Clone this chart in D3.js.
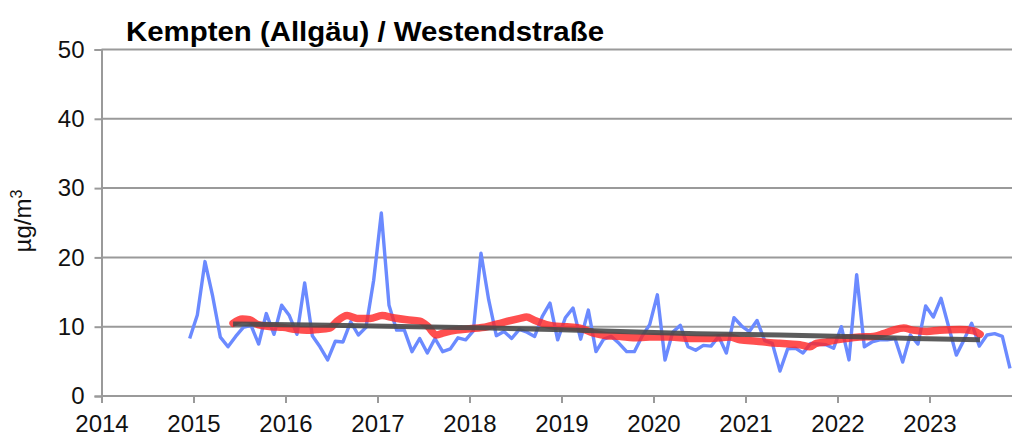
<!DOCTYPE html>
<html>
<head>
<meta charset="utf-8">
<script src="https://cdn.jsdelivr.net/npm/d3@7"></script>
<style>
body { margin: 0; background: #fff; }
svg { display: block; font-family: "Liberation Sans", Arial, sans-serif; }
</style>
</head>
<body>
<div id="chart"></div>
<script>
var W = 1012, H = 439;

var title = "Kempten (Allgäu) / Westendstraße";
var xTicks = [2014, 2015, 2016, 2017, 2018, 2019, 2020, 2021, 2022, 2023];
var yTicks = [0, 10, 20, 30, 40, 50];

// monthly means, starting December 2014
var monthlyStart = [2014, 12];
var monthly = [
    8.3, 11.7, 19.4, 14.4, 8.5, 7.1, 8.6, 9.9, 10.2, 7.5, 11.9, 8.9,
    13.1, 11.6, 8.9, 16.3, 8.7, 7.1, 5.2, 7.9, 7.8, 10.7, 8.8, 9.9,
    16.7, 26.4, 13.1, 9.5, 9.5, 6.4, 8.3, 6.2, 8.3, 6.4, 6.8, 8.4,
    8.1, 9.4, 20.6, 13.9, 8.7, 9.3, 8.3, 9.6, 9.2, 8.6, 11.5, 13.4,
    8.1, 11.3, 12.7, 8.2, 12.4, 6.4, 8.2, 8.6, 7.6, 6.4, 6.4, 8.6,
    10.3, 14.6, 5.2, 9.2, 10.2, 7.1, 6.6, 7.3, 7.2, 8.6, 6.2, 11.3,
    10.1, 9.3, 10.9, 8.0, 7.6, 3.6, 6.8, 6.9, 6.2, 7.6, 7.5, 7.4,
    6.9, 10.0, 5.2, 17.5, 7.1, 7.8, 8.1, 8.1, 8.3, 4.9, 8.8, 7.5,
    13.0, 11.4, 14.1, 10.0, 5.9, 8.1, 10.5, 7.2, 8.8, 9.0, 8.6, 4.0
];

// running mean (red)
var meanYears = [2015.43, 2015.53, 2015.61, 2015.70, 2015.85, 2015.97, 2016.12, 2016.23,
    2016.34, 2016.48, 2016.56, 2016.67, 2016.78, 2016.92, 2017.05, 2017.17, 2017.32,
    2017.46, 2017.55, 2017.64, 2017.72, 2017.86, 2018.00, 2018.19, 2018.36, 2018.55,
    2018.62, 2018.71, 2018.91, 2019.06, 2019.20, 2019.34, 2019.49, 2019.64, 2019.78,
    2019.96, 2020.18, 2020.40, 2020.61, 2020.83, 2020.94, 2021.12, 2021.27, 2021.37,
    2021.48, 2021.59, 2021.70, 2021.77, 2021.88, 2021.99, 2022.10, 2022.24, 2022.39,
    2022.50, 2022.61, 2022.72, 2022.82, 2022.97, 2023.11, 2023.33, 2023.48, 2023.55];
var meanValues = [10.5, 11.1, 11.0, 10.3, 10.0, 9.9, 9.6, 9.5,
    9.6, 9.8, 10.8, 11.6, 11.2, 11.2, 11.6, 11.3, 11.0,
    10.8, 10.0, 8.8, 9.1, 9.5, 9.7, 10.0, 10.6, 11.2,
    11.4, 10.9, 10.1, 10.0, 9.8, 9.1, 8.7, 8.6, 8.4,
    8.5, 8.5, 8.3, 8.3, 8.5, 8.1, 7.9, 7.7, 7.6,
    7.5, 7.4, 7.1, 7.6, 7.8, 8.1, 8.3, 8.5, 8.6,
    9.0, 9.5, 9.8, 9.5, 9.3, 9.5, 9.6, 9.4, 8.9];

// trend (grey)
var trendYears = [2015.43, 2016.48, 2017.57, 2018.22, 2018.91, 2019.64, 2020.47, 2021.37, 2022.10, 2022.82, 2023.55];
var trendValues = [10.4, 10.2, 9.95, 9.8, 9.6, 9.3, 9.0, 8.8, 8.6, 8.3, 8.1];

var svg = d3.select('#chart').append('svg')
    .attr('width', W)
    .attr('height', H);

var x = d3.scaleLinear().domain([2014, 2024]).range([101.5, 1021.5]);
var y = d3.scaleLinear().domain([0, 50]).range([396, 49.5]);

var gridColor = "#9a9a9a";

// horizontal grid
svg.selectAll('.grid')
    .data(yTicks.filter(function(v) { return v > 0; })).enter()
    .append('line')
    .attr('class', 'grid')
    .attr('x1', x(2014)).attr('x2', x(2024))
    .attr('y1', function(v) { return y(v); })
    .attr('y2', function(v) { return y(v); })
    .attr('stroke', gridColor)
    .attr('stroke-width', 2);

// axes
var yAxis = d3.axisLeft(y).tickValues(yTicks).tickSize(7).tickPadding(10);
var gy = svg.append('g').attr('transform', 'translate(' + x(2014) + ',0)').call(yAxis);
var xAxis = d3.axisBottom(x).tickValues(xTicks).tickSize(7).tickPadding(12)
    .tickFormat(d3.format('d'));
var gx = svg.append('g').attr('transform', 'translate(0,' + y(0) + ')').call(xAxis);

[gx, gy].forEach(function(g) {
    g.select('.domain').attr('stroke', gridColor).attr('stroke-width', 2);
    g.selectAll('.tick line').attr('stroke', gridColor).attr('stroke-width', 2);
    g.selectAll('.tick text')
        .attr('fill', '#111')
        .attr('font-size', 24)
        .attr('font-family', '"Liberation Sans", Arial, sans-serif');
});
gx.select('.domain').attr('d', 'M' + x(2014) + ',0H' + x(2024));

var line = d3.line()
    .x(function(d) { return x(d[0]); })
    .y(function(d) { return y(d[1]); });

var bluePts = monthly.map(function(v, i) {
    var m = monthlyStart[1] - 1 + i;
    return [monthlyStart[0] + (m + 0.5) / 12, v];
});
svg.append('path')
    .attr('d', line(bluePts))
    .attr('fill', 'none')
    .attr('stroke', '#6b8aff')
    .attr('stroke-width', 3.4)
    .attr('stroke-linejoin', 'round');

svg.append('path')
    .attr('d', line.curve(d3.curveMonotoneX)(meanYears.map(function(t, i) { return [t, meanValues[i]]; })))
    .attr('fill', 'none')
    .attr('stroke', 'rgb(255,40,40)')
    .attr('stroke-opacity', 0.82)
    .attr('stroke-width', 7.5)
    .attr('stroke-linecap', 'round')
    .attr('stroke-linejoin', 'round');

svg.append('path')
    .attr('d', line.curve(d3.curveLinear)(trendYears.map(function(t, i) { return [t, trendValues[i]]; })))
    .attr('fill', 'none')
    .attr('stroke', '#4a4a4a')
    .attr('stroke-opacity', 0.9)
    .attr('stroke-width', 5);

svg.append('text')
    .attr('x', 126)
    .attr('y', 41)
    .attr('font-size', 27)
    .attr('font-weight', 'bold')
    .attr('fill', '#000')
    .attr('textLength', 478)
    .attr('lengthAdjust', 'spacingAndGlyphs')
    .text(title);

var yl = svg.append('text')
    .attr('transform', 'translate(31,221) rotate(-90)')
    .attr('text-anchor', 'middle')
    .attr('font-size', 24)
    .attr('fill', '#111');
yl.append('tspan').text('µg/m');
yl.append('tspan').attr('dy', -9).attr('font-size', 16).text('3');
</script>
</body>
</html>
